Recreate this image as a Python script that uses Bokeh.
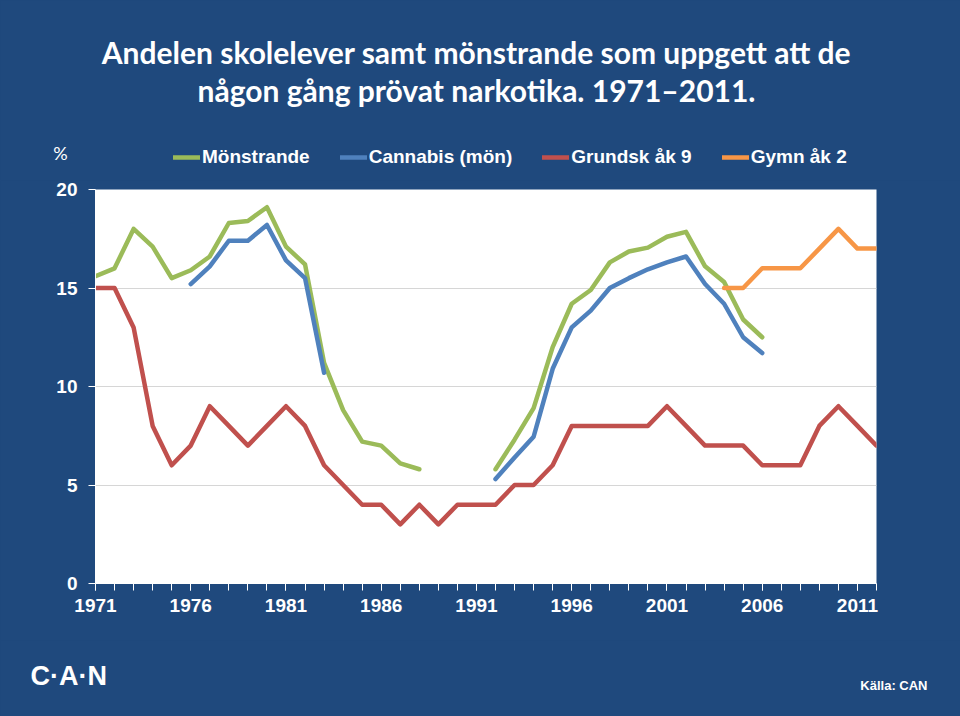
from bokeh.plotting import figure
from bokeh.layouts import column
from bokeh.models import (Range1d, FixedTicker, Legend, LegendItem, ColumnDataSource, Label)
from bokeh.embed import file_html
from bokeh.resources import INLINE

NAN = float("nan")

years = list(range(1971, 2013))

# Mönstrande (conscripts), % ever tried drugs
monstrande = [15.6, 16.0, 18.0, 17.1, 15.5, 15.9, 16.6, 18.3, 18.4, 19.1,
              17.1, 16.2, 11.2, 8.8, 7.2, 7.0, 6.1, 5.8, NAN, NAN,
              NAN, 5.8, 7.3, 8.9, 12.0, 14.2, 14.9, 16.3, 16.85, 17.05,
              17.6, 17.85, 16.1, 15.3, 13.4, 12.5, NAN, NAN, NAN, NAN,
              NAN, NAN]

# Cannabis (mön)
cannabis = [NAN, NAN, NAN, NAN, NAN, 15.2, 16.1, 17.4, 17.4, 18.2,
            16.4, 15.5, 10.7, NAN, NAN, NAN, NAN, NAN, NAN, NAN,
            NAN, 5.3, 6.4, 7.45, 10.9, 13.0, 13.85, 15.0, 15.5, 15.95,
            16.3, 16.6, 15.2, 14.2, 12.5, 11.7, NAN, NAN, NAN, NAN,
            NAN, NAN]

# Grundsk åk 9
grundsk = [15, 15, 13, 8, 6, 7, 9, 8, 7, 8,
           9, 8, 6, 5, 4, 4, 3, 4, 3, 4,
           4, 4, 5, 5, 6, 8, 8, 8, 8, 8,
           9, 8, 7, 7, 7, 6, 6, 6, 8, 9,
           8, 7]

# Gymn åk 2
gymn = [NAN] * 33 + [15, 15, 16, 16, 16, 17, 18, 17, 17]

series_names = ["Mönstrande", "Cannabis (mön)", "Grundsk åk 9", "Gymn åk 2"]
series_colors = ["#9BBB59", "#4F81BD", "#C0504D", "#F79646"]
series_values = [monstrande, cannabis, grundsk, gymn]

x_label_years = list(range(1971, 2012, 5))
y_ticks = [0, 5, 10, 15, 20]

title_lines = ["Andelen skolelever samt mönstrande som uppgett att de",
               "någon gång prövat narkotika. 1971\u20132011."]
unit_text = "%"
logo_text = "C\u00b7A\u00b7N"
source_text = "Källa: CAN"

BG = "#1F497D"
W = 960
HEAD_H, MAIN_H, FOOT_H = 180, 460, 76
LINE_W = 4.5


def blank_fig(h):
    f = figure(width=W, height=h, output_backend="svg", toolbar_location=None,
               x_range=Range1d(0, W), y_range=Range1d(h, 0),
               x_axis_type=None, y_axis_type=None,
               background_fill_color=BG, border_fill_color=BG,
               outline_line_color=None, min_border=0, frame_align=False)
    f.grid.visible = False
    return f


# ---------- header: title, unit and legend ----------
head = blank_fig(HEAD_H)
for i, line in enumerate(title_lines):
    head.add_layout(Label(x=476, y=51 + 38 * i, text=line, text_align="center",
                          text_baseline="middle", text_color="white", text_font="Lato",
                          text_font_style="bold", text_font_size="30px"))

head.add_layout(Label(x=60, y=152, text=unit_text, text_align="center",
                      text_baseline="middle", text_color="white", text_font="Lato",
                      text_font_size="18px"))

key_renderers = []
for name, color in zip(series_names, series_colors):
    r = head.line(x=[NAN], y=[NAN], line_color=color, line_width=LINE_W, line_cap="round")
    key_renderers.append((name, r))

legend = Legend(items=[LegendItem(label=n, renderers=[r]) for n, r in key_renderers],
                orientation="horizontal", location=(173, 12),
                background_fill_alpha=0, border_line_color=None,
                label_text_color="white", label_text_font="Liberation Sans",
                label_text_font_style="bold", label_text_font_size="19px",
                glyph_width=27, glyph_height=20, label_standoff=2, spacing=30,
                padding=0, margin=0, label_height=20)
head.add_layout(legend, "center")

# ---------- main chart ----------
p = figure(width=W, height=MAIN_H, output_backend="svg", toolbar_location=None,
           x_range=Range1d(1971, 2012), y_range=Range1d(0, 20),
           background_fill_color="white", border_fill_color=BG,
           outline_line_color=None, frame_align=False,
           min_border_left=95, min_border_right=84,
           min_border_top=9, min_border_bottom=57)

for name, color, vals in zip(series_names, series_colors, series_values):
    src = ColumnDataSource(dict(x=years, y=vals))
    p.line("x", "y", source=src, line_color=color, line_width=LINE_W,
           line_join="round", line_cap="round")

p.xaxis.ticker = FixedTicker(ticks=x_label_years, minor_ticks=years)
p.yaxis.ticker = FixedTicker(ticks=y_ticks)
for ax in (p.xaxis, p.yaxis):
    ax.axis_line_color = "white"
    ax.axis_line_width = 1
    ax.major_tick_line_color = "white"
    ax.minor_tick_line_color = "white"
    ax.major_tick_in = 0
    ax.major_tick_out = 7
    ax.minor_tick_in = 0
    ax.minor_tick_out = 7
    ax.major_label_text_color = "white"
    ax.major_label_text_font = "Liberation Sans"
    ax.major_label_text_font_style = "bold"
    ax.major_label_text_font_size = "19px"
p.yaxis.minor_tick_line_color = None
p.xaxis.major_label_standoff = 8
p.yaxis.major_label_standoff = 11

p.xgrid.grid_line_color = None
p.ygrid.ticker = FixedTicker(ticks=[5, 10, 15])
p.ygrid.grid_line_color = "#D6D6D6"
p.ygrid.grid_line_width = 1

# ---------- footer ----------
foot = blank_fig(FOOT_H)
foot.add_layout(Label(x=30, y=35, text=logo_text, text_align="left",
                      text_baseline="middle", text_color="white",
                      text_font="Liberation Sans", text_font_style="bold",
                      text_font_size="27px"))
foot.add_layout(Label(x=927, y=45, text=source_text, text_align="right",
                      text_baseline="middle", text_color="white",
                      text_font="Liberation Sans", text_font_style="bold",
                      text_font_size="13px"))

layout = column(head, p, foot, spacing=0, styles={"background-color": BG})
open("out.html", "w").write(file_html(layout, INLINE))
